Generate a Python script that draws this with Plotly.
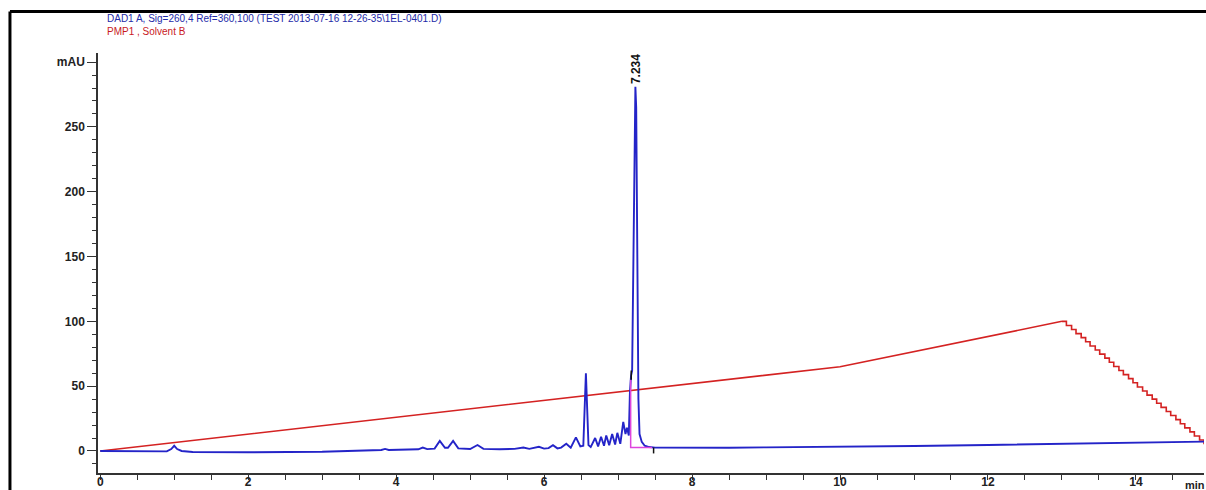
import plotly.graph_objects as go

# DAD1 A signal (mAU) versus retention time (min)
dad_time = [
    0.00, 0.50, 0.90, 0.96, 1.00, 1.04, 1.10, 1.25, 2.00, 3.00, 3.50, 3.80, 3.85, 3.90,
    4.30, 4.36, 4.42, 4.52, 4.59, 4.66, 4.70, 4.77, 4.84, 5.00, 5.10, 5.18, 5.40, 5.60,
    5.72, 5.80, 5.93, 6.00, 6.06, 6.12, 6.18, 6.23, 6.30, 6.36, 6.43, 6.49, 6.53, 6.565,
    6.60, 6.63, 6.69, 6.73, 6.77, 6.81, 6.84, 6.88, 6.92, 6.96, 6.99, 7.03, 7.07, 7.10,
    7.12, 7.145, 7.16, 7.175, 7.19, 7.21, 7.225, 7.234, 7.245, 7.26, 7.275, 7.29, 7.32,
    7.36, 7.42, 7.50, 8.00, 8.50, 9.00, 10.0, 11.0, 12.0, 13.0, 14.0, 14.92,
]
dad_mau = [
    0.0, -0.3, -0.3, 1.5, 4.0, 1.5, 0.0, -0.8, -1.0, -0.6, 0.2, 0.8, 1.6, 0.8,
    1.3, 2.6, 1.4, 1.8, 7.7, 2.5, 2.5, 7.7, 2.0, 1.5, 4.6, 1.6, 1.3, 1.6,
    2.6, 1.6, 3.2, 1.8, 2.2, 4.5, 2.0, 2.6, 5.5, 2.5, 10.5, 3.5, 4.0, 60.0,
    4.5, 3.0, 10.0, 3.5, 11.0, 4.0, 12.0, 4.5, 13.0, 5.0, 14.0, 5.5, 22.5, 13.0,
    18.0, 12.0, 45.0, 58.0, 62.0, 160.0, 268.0, 281.0, 265.0, 140.0, 40.0, 13.0, 7.0,
    4.0, 3.0, 2.6, 2.4, 2.5, 2.8, 3.2, 3.8, 4.6, 5.4, 6.3, 7.2,
]

# PMP1 solvent B gradient: linear ramp, then stepped return
ramp_time = [0.0, 10.0, 13.0]
ramp_pct = [0.0, 65.0, 100.0]
step_time = [
    13.00, 13.06, 13.13, 13.19, 13.26, 13.32, 13.38, 13.45, 13.51, 13.58, 13.64,
    13.70, 13.77, 13.83, 13.90, 13.96, 14.02, 14.09, 14.15, 14.22, 14.28, 14.34,
    14.41, 14.47, 14.54, 14.60, 14.66, 14.73, 14.79, 14.86, 14.92,
]
step_pct = [
    100.0, 96.8, 93.7, 90.5, 87.4, 84.2, 81.0, 77.9, 74.7, 71.6, 68.4,
    65.2, 62.1, 58.9, 55.8, 52.6, 49.4, 46.3, 43.1, 40.0, 36.8, 33.6,
    30.5, 27.3, 24.2, 21.0, 17.8, 14.7, 11.5, 8.4, 5.2,
]

# Integrated peak: retention time, apex height, baseline limits
peak_rt = 7.234
peak_height = 281.0
peak_start, peak_end = 7.17, 7.46
peak_start_level, peak_base = 55.0, 2.6

y_tick_vals = [0, 50, 100, 150, 200, 250, 300]
y_tick_text = ["0", "50", "100", "150", "200", "250", "mAU"]
x_tick_vals = [0, 2, 4, 6, 8, 10, 12, 14]

BLUE = "#2424c8"
RED = "#d42222"
MAGENTA = "#dd44dd"
FONT = "Arial, Liberation Sans, sans-serif"

fig = go.Figure()

fig.add_trace(go.Scatter(x=ramp_time, y=ramp_pct, mode="lines",
                         line=dict(color=RED, width=1.6), hoverinfo="skip"))
fig.add_trace(go.Scatter(x=step_time, y=step_pct, mode="lines", line_shape="hv",
                         line=dict(color=RED, width=1.6), hoverinfo="skip"))

fig.add_trace(go.Scatter(x=dad_time, y=dad_mau, mode="lines",
                         line=dict(color=BLUE, width=1.9), hoverinfo="skip"))

# Integration baseline and drop line
fig.add_trace(go.Scatter(
    x=[peak_start, peak_start, peak_end],
    y=[peak_start_level, peak_base, peak_base],
    mode="lines", line=dict(color=MAGENTA, width=1.5), hoverinfo="skip"))

# Peak start/end tick marks
fig.add_trace(go.Scatter(
    x=[peak_start + 0.008, peak_start + 0.008, None, peak_end + 0.02, peak_end + 0.02],
    y=[peak_start_level, peak_start_level + 7, None, peak_base, peak_base - 4.5],
    mode="lines", line=dict(color="#111111", width=1.5), hoverinfo="skip"))

fig.add_annotation(x=peak_rt, y=peak_height, text=f"<b>{peak_rt:.3f}</b>", textangle=-90,
                   showarrow=False, xanchor="center", yanchor="bottom", yshift=1,
                   font=dict(family=FONT, size=12, color="#111111"))

fig.add_annotation(xref="paper", yref="paper", x=0.0063, y=1.081,
                   text="DAD1 A, Sig=260,4 Ref=360,100 (TEST 2013-07-16 12-26-35\\1EL-0401.D)",
                   showarrow=False, xanchor="left", yanchor="middle",
                   font=dict(family=FONT, size=10, color="#1e2aa8"))
fig.add_annotation(xref="paper", yref="paper", x=0.0063, y=1.050,
                   text="PMP1 , Solvent B",
                   showarrow=False, xanchor="left", yanchor="middle",
                   font=dict(family=FONT, size=10, color="#c8191e"))
fig.add_annotation(xref="paper", yref="paper", x=0.992, y=-0.028, text="<b>min</b>",
                   showarrow=False, xanchor="center", yanchor="middle",
                   font=dict(family=FONT, size=11, color="#222222"))

# Outer frame (left and top edges)
fig.add_shape(type="line", xref="paper", yref="paper", x0=-0.0796, x1=-0.0796,
              y0=1.099, y1=-0.2, line=dict(color="black", width=3))
fig.add_shape(type="line", xref="paper", yref="paper", x0=-0.0796, x1=1.01,
              y0=1.099, y1=1.099, line=dict(color="black", width=3))

fig.update_layout(
    width=1206, height=490,
    margin=dict(l=98, r=2, t=53, b=17),
    paper_bgcolor="white", plot_bgcolor="white",
    showlegend=False,
    font=dict(family=FONT, color="#222222"),
    xaxis=dict(range=[-0.03, 14.92], showgrid=False, zeroline=False, automargin=False,
               showline=True, linecolor="#333333", linewidth=1.5,
               ticks="outside", ticklen=5, tickwidth=1.3, tickcolor="#333333",
               tickvals=x_tick_vals, ticktext=[f"<b>{v}</b>" for v in x_tick_vals],
               tickfont=dict(family=FONT, size=12, color="#222222"),
               ticklabelstandoff=-8,
               minor=dict(dtick=0.5, ticks="outside", ticklen=5, tickwidth=1.3,
                          tickcolor="#333333", showgrid=False)),
    yaxis=dict(range=[-17, 307], showgrid=False, zeroline=False, automargin=False,
               showline=True, linecolor="#333333", linewidth=1.5,
               ticks="outside", ticklen=9, tickwidth=1.3, tickcolor="#333333",
               tickvals=y_tick_vals, ticktext=[f"<b>{t}</b>" for t in y_tick_text],
               tickfont=dict(family=FONT, size=12, color="#222222"),
               minor=dict(dtick=10, ticks="outside", ticklen=4, tickwidth=1.3,
                          tickcolor="#333333", showgrid=False)),
)

fig.write_html("out.html")
